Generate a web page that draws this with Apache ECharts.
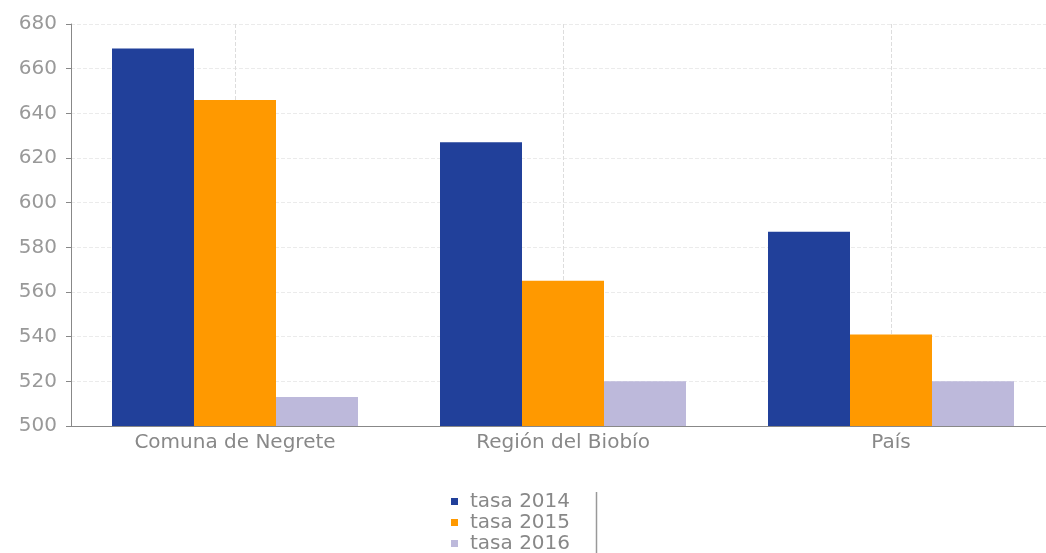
<!DOCTYPE html>
<html><head><meta charset="utf-8">
<script src="https://cdn.jsdelivr.net/npm/echarts@6/dist/echarts.min.js"></script>
<style>html,body{margin:0;padding:0;background:#fff;overflow:hidden;width:1046px;height:553px}#c{width:1062px;height:570px}</style>
</head><body><div id="c"></div>
<script>
const categories = ['Comuna de Negrete', 'Región del Biobío', 'País'];
const seriesNames = ['tasa 2014', 'tasa 2015', 'tasa 2016'];
const tasa2014 = [669, 627, 587];
const tasa2015 = [646, 565, 541];
const tasa2016 = [513, 520, 520];
const yTicks = { min: 500, max: 680, interval: 20 };
const colors = ['#21409A', '#FF9900', '#BDB9DB'];
const font = '"DejaVu Sans", sans-serif';

const chart = echarts.init(document.getElementById('c'));
chart.setOption({
  animation: false,
  textStyle: { fontFamily: font },
  grid: { left: 71, top: 24, width: 984, height: 402, containLabel: false },
  legend: {
    orient: 'vertical', left: 451, top: 491, padding: 0,
    itemWidth: 7, itemHeight: 7, itemGap: 0, icon: 'rect',
    textStyle: { fontSize: 20, lineHeight: 21, color: '#888', fontFamily: font, padding: [0, 0, 0, 7] },
    data: seriesNames
  },
  graphic: [{ type: 'line', shape: { x1: 596.5, y1: 492, x2: 596.5, y2: 553 }, style: { stroke: '#999', lineWidth: 1.5 } }],
  xAxis: {
    type: 'category', data: categories,
    axisLine: { lineStyle: { color: '#888' } },
    axisTick: { alignWithLabel: true, length: 5, lineStyle: { color: '#888' } },
    axisLabel: { fontSize: 20, color: '#888', margin: 7 },
    splitLine: { show: true, alignWithLabel: true, lineStyle: { type: 'dashed', color: '#ddd' } }
  },
  yAxis: {
    type: 'value', min: yTicks.min, max: yTicks.max, interval: yTicks.interval,
    axisLine: { show: true, lineStyle: { color: '#888' } },
    axisTick: { show: true, length: 5, lineStyle: { color: '#888' } },
    axisLabel: { fontSize: 20, color: '#999', margin: 14 },
    splitLine: { lineStyle: { type: 'dashed', color: '#ebebeb' } }
  },
  series: [
    { name: seriesNames[0], type: 'bar', data: tasa2014, itemStyle: { color: colors[0] }, barGap: 0, barCategoryGap: '25%' },
    { name: seriesNames[1], type: 'bar', data: tasa2015, itemStyle: { color: colors[1] }, barGap: 0, barCategoryGap: '25%' },
    { name: seriesNames[2], type: 'bar', data: tasa2016, itemStyle: { color: colors[2] }, barGap: 0, barCategoryGap: '25%' }
  ]
});
</script></body></html>
